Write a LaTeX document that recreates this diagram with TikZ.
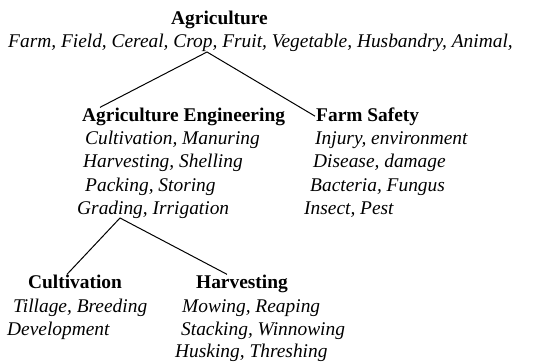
\documentclass[tikz,border=0pt]{standalone}
\usepackage{fontspec}
\setmainfont{Liberation Serif}
\begin{document}
\begin{tikzpicture}[x=1pt,y=-1pt,
    head/.style={anchor=base west,inner sep=0pt,font=\fontsize{19.4}{23}\selectfont\bfseries},
    term/.style={anchor=base west,inner sep=0pt,font=\fontsize{19.4}{23}\selectfont\itshape},
    branch/.style={line width=1pt}]
  \useasboundingbox (0,0) rectangle (552,363);
  % root
  \node[head] (agri) at (171,25) {Agriculture};
  \node[term] (agriTerms) at (8,48) {Farm, Field, Cereal, Crop, Fruit, Vegetable, Husbandry, Animal,};
  % level one
  \node[head] (eng) at (82,122) {Agriculture Engineering};
  \node[term] (engA) at (85,145) {Cultivation, Manuring};
  \node[term] (engB) at (83,168) {Harvesting, Shelling};
  \node[term] (engC) at (85,192) {Packing, Storing};
  \node[term] (engD) at (77,215) {Grading, Irrigation};
  \node[head] (safety) at (316,122) {Farm Safety};
  \node[term] (safeA) at (315,145) {Injury, environment};
  \node[term] (safeB) at (313,168) {Disease, damage};
  \node[term] (safeC) at (310,192) {Bacteria, Fungus};
  \node[term] (safeD) at (304,215) {Insect, Pest};
  % level two
  \node[head] (cult) at (28,289) {Cultivation};
  \node[term] (cultA) at (13,313) {Tillage, Breeding};
  \node[term] (cultB) at (7,336) {Development};
  \node[head] (harv) at (196,289) {Harvesting};
  \node[term] (harvA) at (182,313) {Mowing, Reaping};
  \node[term] (harvB) at (181,336) {Stacking, Winnowing};
  \node[term] (harvC) at (175,358) {Husking, Threshing};
  % branches
  \coordinate (agriFork) at (207,52);
  \coordinate (engFork) at (120,218);
  \draw[branch] ([xshift=18pt,yshift=1pt]eng.north west) -- (agriFork) -- ([xshift=-1pt,yshift=-8pt]safety.north west);
  \draw[branch] ([xshift=39pt,yshift=1pt]cult.north west) -- (engFork) -- ([xshift=31pt,yshift=1pt]harv.north west);
\end{tikzpicture}
\end{document}
